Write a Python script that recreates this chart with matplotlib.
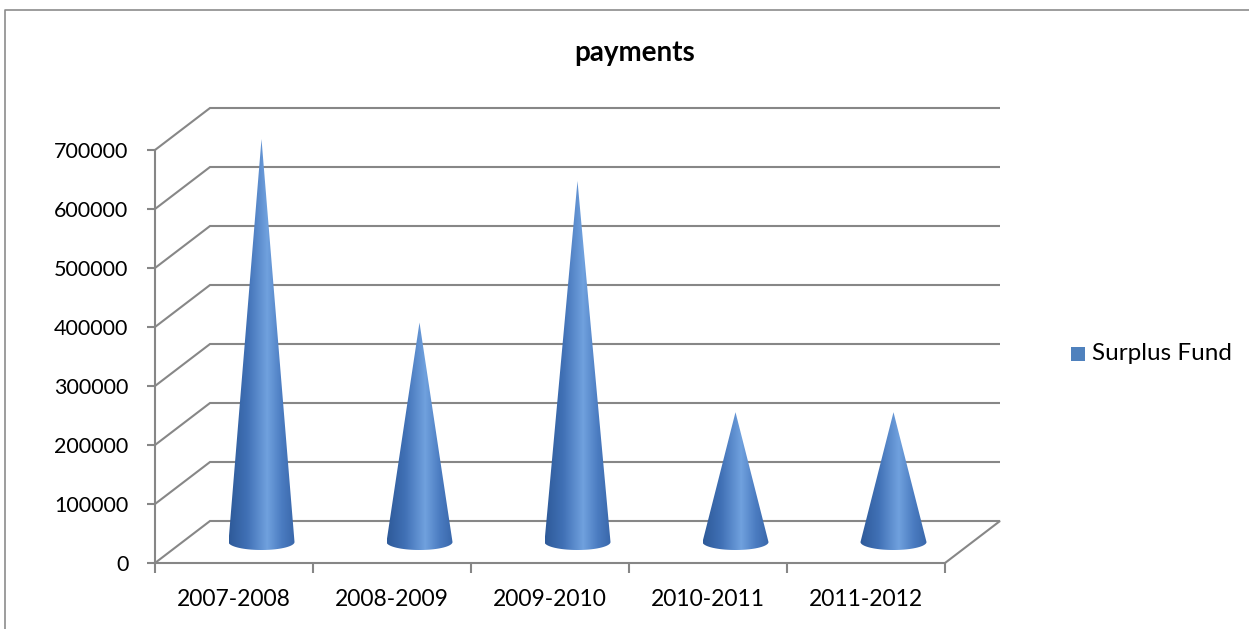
import numpy as np
import matplotlib
matplotlib.use("Agg")
import matplotlib.pyplot as plt
from matplotlib.patches import Polygon, Rectangle
from matplotlib.colors import LinearSegmentedColormap
from matplotlib.lines import Line2D

# ---- data -------------------------------------------------------------
categories = ["2007-2008", "2008-2009", "2009-2010", "2010-2011", "2011-2012"]
surplus_fund = [683000, 372000, 612000, 220000, 220000]
y_ticks = [0, 100000, 200000, 300000, 400000, 500000, 600000, 700000]
series_name = "Surplus Fund"
chart_title = "payments"

plt.rcParams["font.family"] = ["Lato", "DejaVu Sans"]

W, H = 1249, 629
fig = plt.figure(figsize=(W / 100, H / 100), dpi=100)
fig.patch.set_facecolor("white")

# plot area in pixels: front plane + room for the receding back wall
front_left, front_right = 155, 945
front_bottom, front_top = 563, 150
depth_dx, depth_dy = 55, 42           # pixel shift of the back wall

n = len(categories)
y_max = y_ticks[-1]
px_per_cat = (front_right - front_left) / n
px_per_val = (front_bottom - front_top) / y_max

ax_left_px = front_left
ax_right_px = front_right + depth_dx
ax_top_px = front_top - depth_dy
ax = fig.add_axes([ax_left_px / W, 1 - front_bottom / H,
                   (ax_right_px - ax_left_px) / W,
                   (front_bottom - ax_top_px) / H])

x_lo = -0.5
x_hi = x_lo + (ax_right_px - ax_left_px) / px_per_cat
y_hi = (front_bottom - ax_top_px) / px_per_val
ddx = depth_dx / px_per_cat           # depth shift in data units
ddy = depth_dy / px_per_val

grid_col = "#878787"
axis_col = "#868686"

# ---- walls and floor --------------------------------------------------
x0, x1 = -0.5, n - 0.5
for v in y_ticks:
    xs = [x0, x0 + ddx, x1 + ddx]
    ys = [v, v + ddy, v + ddy]
    if v == 0:
        xs.append(x1)
        ys.append(0)
    ax.plot(xs, ys, color=grid_col, lw=1.5, solid_capstyle="butt",
            solid_joinstyle="miter", zorder=1, clip_on=False)

# ---- cones ------------------------------------------------------------
cone_cmap = LinearSegmentedColormap.from_list(
    "cone",
    [(0.0, "#2e5a99"), (0.28, "#4171b6"), (0.58, "#70a1de"),
     (0.8, "#4b7cc1"), (1.0, "#3967aa")])
grad = np.linspace(0, 1, 256)[None, :]

rx = 33 / px_per_cat
ry = 8 / px_per_val
base_y = ddy / 2
for i, val in enumerate(surplus_fund):
    cx = i + ddx / 2
    t = np.linspace(0, -np.pi, 60)
    ell = np.column_stack([cx + rx * np.cos(t), base_y + ry * np.sin(t)])
    verts = np.vstack([[cx, base_y + val], ell])
    cone = Polygon(verts, closed=True, facecolor="none", edgecolor="none",
                   zorder=3)
    ax.add_patch(cone)
    im = ax.imshow(grad, cmap=cone_cmap, aspect="auto",
                   extent=[cx - rx, cx + rx, base_y - ry, base_y + val],
                   interpolation="bilinear", zorder=3)
    im.set_clip_path(cone)

ax.set_xlim(x_lo, x_hi)
ax.set_ylim(0, y_hi)

# ---- axes -------------------------------------------------------------
for s in ("top", "right"):
    ax.spines[s].set_visible(False)
for s in ("left", "bottom"):
    ax.spines[s].set_color(axis_col)
    ax.spines[s].set_linewidth(1.5)
ax.spines["left"].set_bounds(0, y_max)
ax.spines["bottom"].set_bounds(x0, x1)
ax.patch.set_visible(False)

ax.set_yticks(y_ticks)
ax.set_yticklabels([str(v) for v in y_ticks])
ax.tick_params(axis="y", direction="out", length=6, width=1.5,
               color=axis_col, pad=13, labelsize=15.5, labelcolor="black")

ax.set_xticks(np.arange(n + 1) - 0.5)
ax.set_xticklabels([])
ax.set_xticks(np.arange(n), minor=True)
ax.set_xticklabels(categories, minor=True)
ax.tick_params(axis="x", which="major", direction="out", length=7,
               width=1.5, color=axis_col)
ax.tick_params(axis="x", which="minor", length=0, pad=19, labelsize=16.5,
               labelcolor="black")

# ---- title, legend, frame ---------------------------------------------
fig.text(635 / W, 1 - 53 / H, chart_title, ha="center", va="center",
         fontsize=20, fontweight="bold")

fig.add_artist(Rectangle((1071 / W, 1 - 361 / H), 14 / W, 14 / H,
                         transform=fig.transFigure, facecolor="#4f81bd",
                         edgecolor="none"))
fig.text(1092 / W, 1 - 354 / H, series_name, ha="left", va="center",
         fontsize=17.5)

fig.add_artist(Line2D([4.5 / W, 4.5 / W, 1.0], [0.0, 1 - 9.5 / H, 1 - 9.5 / H],
                      transform=fig.transFigure, color="#8c8c8c", lw=1.2))

fig.savefig("out.png", dpi=100, facecolor="white")
